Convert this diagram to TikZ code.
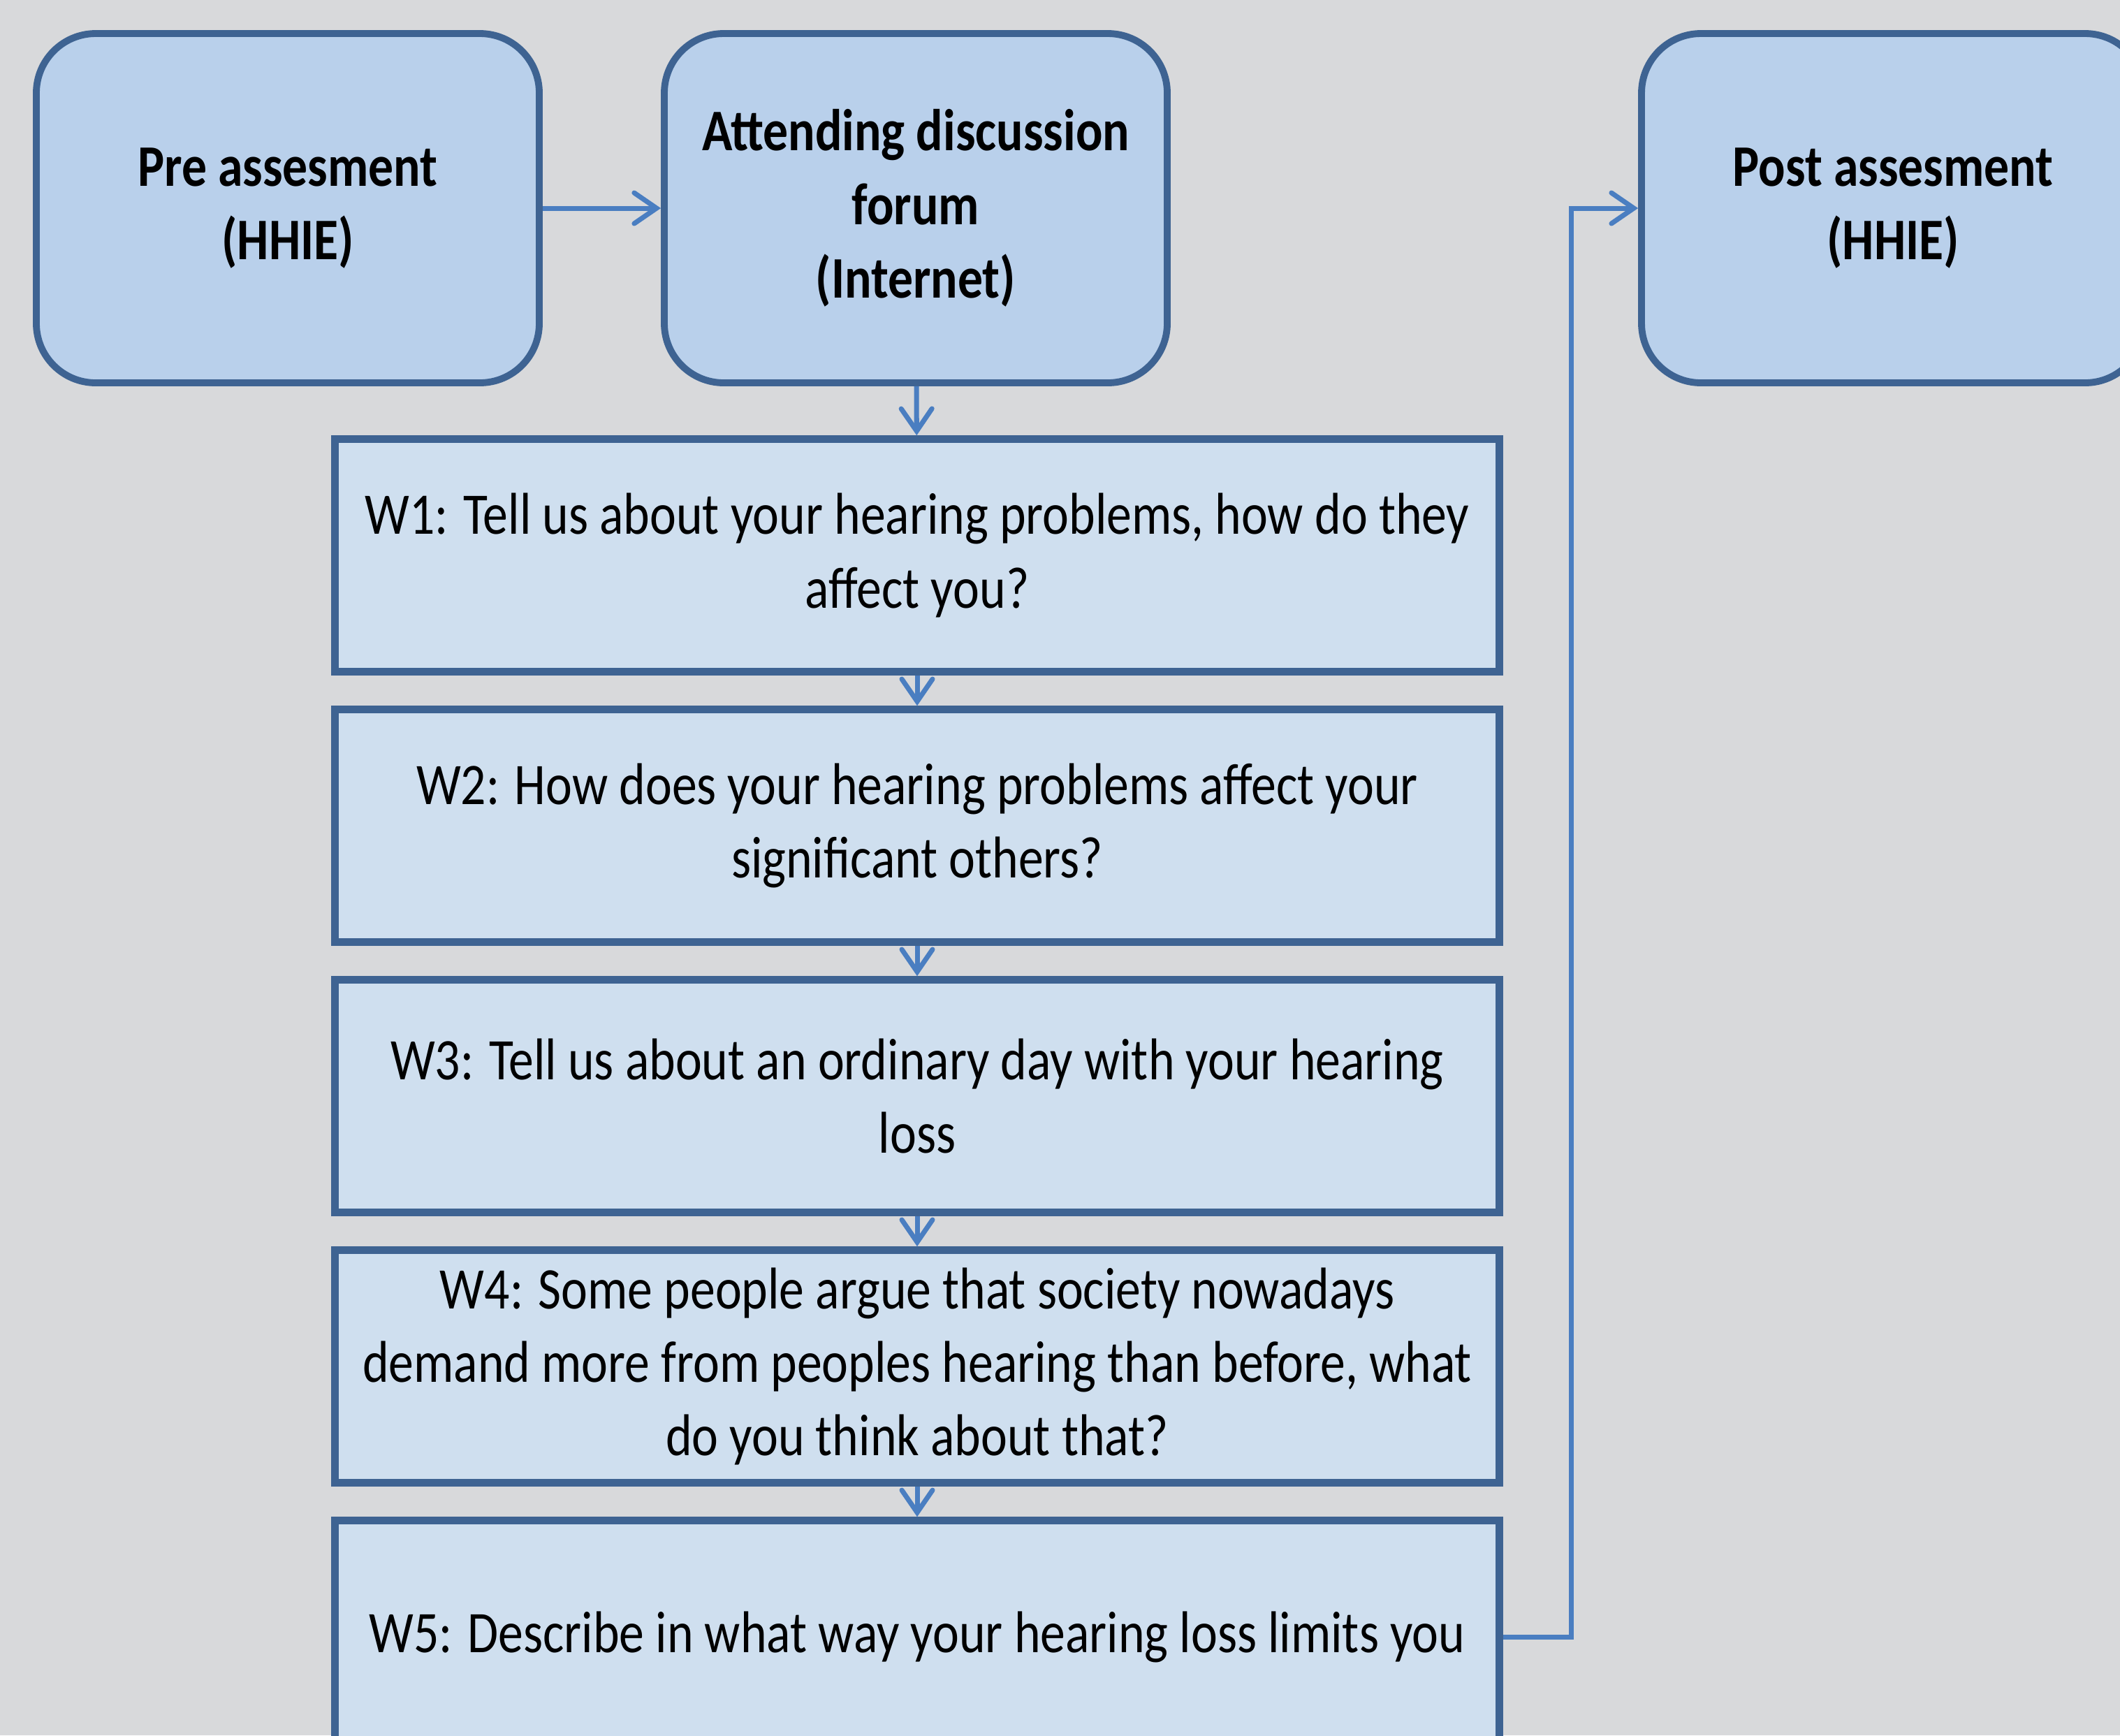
\documentclass[tikz,border=0pt]{standalone}
\usepackage{fontspec}
\setmainfont{Carlito}[FakeStretch=0.85]
\usepackage{tikz}
\usetikzlibrary{arrows.meta, positioning}
\usepackage{xcolor}
\definecolor{bggray}{HTML}{D8D9DB}
\definecolor{stagefill}{HTML}{B9D0EB}
\definecolor{weekfill}{HTML}{CFDFEF}
\definecolor{boxline}{HTML}{3E6392}
\definecolor{linkblue}{HTML}{4A7EC1}
\tikzstyle{arrow}     = [line width=2pt, linkblue, -{Straight Barb[length=0.32cm, width=0.44cm, line width=2pt, line cap=round]}]
\tikzstyle{stage}     = [draw=boxline, line width=2.8pt, fill=stagefill, rounded corners=0.85cm, minimum width=7.2cm, minimum height=5cm, align=center, font=\fontsize{24}{30}\selectfont\bfseries]
\tikzstyle{week}      = [draw=boxline, line width=3pt, fill=weekfill, minimum width=16.67cm, minimum height=3.33cm, align=center, font=\fontsize{24}{30}\selectfont]

\begin{document}
\begin{tikzpicture}

\fill[bggray] (0,0) rectangle (30.35,-24.84);
\useasboundingbox (0,0) rectangle (30.35,-24.84);

\node[stage] (pre)    at (4.12,-2.98)  {Pre assesment\\(HHIE)};
\node[stage] (forum)  at (13.11,-2.98) {Attending discussion\\forum\\(Internet)};
\node[stage] (post)   at (27.10,-2.98) {Post assesment\\(HHIE)};

\node[week] (W1) at (13.13,-7.95)  {W1: Tell us about your hearing problems, how do they\\affect you?};
\node[week] (W2) at (13.13,-11.82) {W2: How does your hearing problems affect your\\significant others?};
\node[week] (W3) at (13.13,-15.69) {W3: Tell us about an ordinary day with your hearing\\loss};
\node[week] (W4) at (13.13,-19.56) {W4: Some people argue that society nowadays\\demand more from peoples hearing than before, what\\do you think about that?};
\node[week] (W5) at (13.13,-23.43) {W5: Describe in what way your hearing loss limits you};

\draw[arrow] (pre) -- (forum);
\draw[arrow] (forum) -- (W1);
\draw[arrow] (W1) -- (W2);
\draw[arrow] (W2) -- (W3);
\draw[arrow] (W3) -- (W4);
\draw[arrow] (W4) -- (W5);

\draw[arrow] (W5.east) -- ++(0.98,0) |- (post.west);

\end{tikzpicture}
\end{document}
